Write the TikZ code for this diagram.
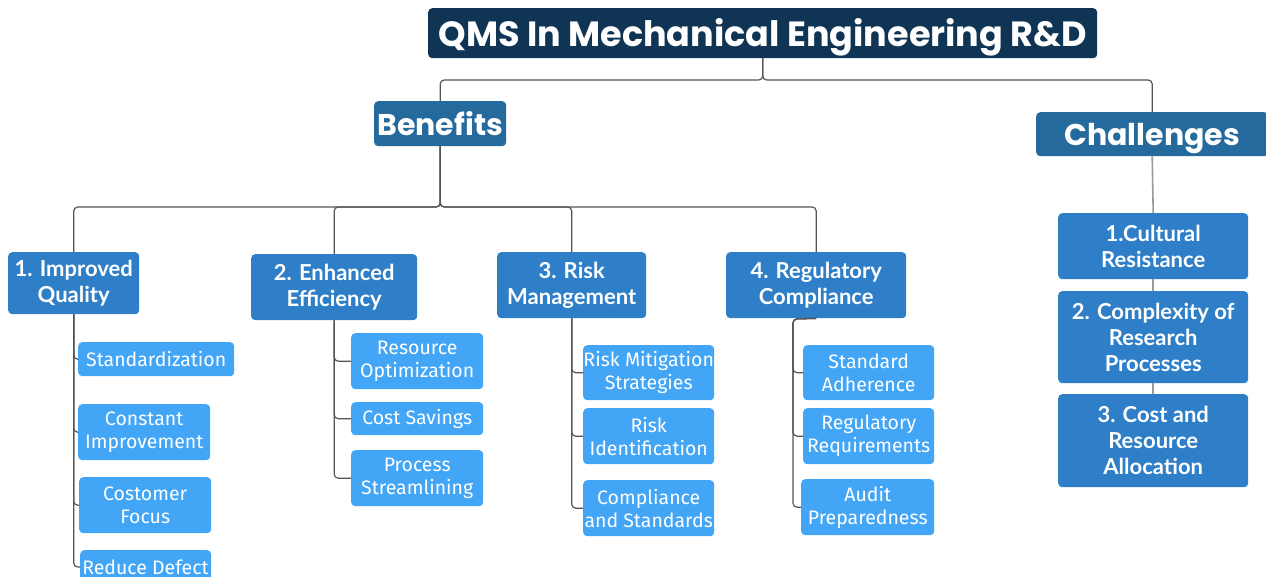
\documentclass[tikz,border=0pt]{standalone}
\usepackage{fontspec}
\setmainfont{Fira Sans}
\newfontfamily\headfont{Poppins}
\newfontfamily\catfont{Lato}

\definecolor{navy}{HTML}{0F3454}
\definecolor{headblue}{HTML}{256A9C}
\definecolor{catblue}{HTML}{2F7FC8}
\definecolor{subblue}{HTML}{42A5F6}
\definecolor{linegray}{HTML}{555555}
\definecolor{lightline}{HTML}{9A9A9A}

% text set on a baseline lying #1 below the centre of its box
\newcommand{\onbase}[2]{\raisebox{-#1}[0pt][0pt]{#2}}

\tikzset{
  box/.style={rounded corners=4pt, text=white, align=center, inner sep=0pt, anchor=north west},
  sz/.style 2 args={minimum width=#1, minimum height=#2},
  titlebox/.style={box, fill=navy, font=\headfont\bfseries\fontsize{35}{40}\selectfont},
  headbox/.style={box, fill=headblue, font=\headfont\bfseries\fontsize{30}{34}\selectfont},
  catbox/.style={box, fill=catblue, font=\catfont\bfseries\fontsize{22}{26}\selectfont},
  subbox/.style={box, fill=subblue, font=\fontsize{19.5}{23}\selectfont},
  conn/.style={draw=linegray, line width=1.2pt, rounded corners=4pt},
  lconn/.style={draw=lightline, line width=1.6pt},
}

\begin{document}
\begin{tikzpicture}[x=1pt, y=-1pt]
\useasboundingbox (0,0) rectangle (1266,577);
\clip (0,0) rectangle (1266,577);

% top level
\node[titlebox, sz={669pt}{50pt}] (title) at (428,8) {\onbase{13.5pt}{QMS In Mechanical Engineering R\&D}};
\node[headbox, sz={132pt}{45pt}] (ben) at (374,101) {\onbase{12pt}{Benefits}};
\node[headbox, sz={232pt}{44pt}] (chal) at (1036,112) {\onbase{11.5pt}{Challenges}};

% benefit categories
\node[catbox, sz={131pt}{62pt}] (q1) at (8,252) {1. Improved\\Quality};
\node[catbox, sz={166pt}{66pt}] (q2) at (251,254) {2. Enhanced\\Efficiency};
\node[catbox, sz={149pt}{66pt}] (q3) at (497,252) {3. Risk\\Management};
\node[catbox, sz={180pt}{66pt}] (q4) at (726,252) {4. Regulatory\\Compliance};

% improved quality
\node[subbox, sz={156pt}{34pt}] (s11) at (78,342) {Standardization};
\node[subbox, sz={132pt}{56pt}] (s12) at (78,404) {Constant\\Improvement};
\node[subbox, sz={132pt}{56pt}] (s13) at (79,477) {Costomer\\Focus};
\node[subbox, sz={131pt}{40pt}] (s14) at (80,550) {};
\node[font=\fontsize{19.5}{20}\selectfont, text=white, inner sep=0pt] (s14t) at (145.5,567) {Reduce Defect};

% enhanced efficiency
\node[subbox, sz={132pt}{56pt}] (s21) at (351,333) {Resource\\Optimization};
\node[subbox, sz={132pt}{33pt}] (s22) at (351,402) {Cost Savings};
\node[subbox, sz={132pt}{56pt}] (s23) at (351,450) {Process\\Streamlining};

% risk management
\node[subbox, sz={131pt}{55pt}] (s31) at (583,345) {Risk Mitigation\\Strategies};
\node[subbox, sz={131pt}{56pt}] (s32) at (583,408) {Risk\\Identification};
\node[subbox, sz={131pt}{56pt}] (s33) at (583,480) {Compliance\\and Standards};

% regulatory compliance
\node[subbox, sz={131pt}{55pt}] (s41) at (803,345) {Standard\\Adherence};
\node[subbox, sz={131pt}{56pt}] (s42) at (803,408) {Regulatory\\Requirements};
\node[subbox, sz={133pt}{56pt}] (s43) at (801,479) {Audit\\Preparedness};

% challenges
\node[catbox, sz={190pt}{66pt}] (c1) at (1058,213) {1.Cultural\\Resistance};
\node[catbox, sz={190pt}{92pt}] (c2) at (1058,291) {2. Complexity of\\Research\\Processes};
\node[catbox, sz={190pt}{93pt}] (c3) at (1058,394) {3. Cost and\\Resource\\Allocation};

% connectors: root
\coordinate (rootbar) at (0,80);
\draw[conn] (title.south) -- (title.south |- rootbar) -| (ben.north);
\draw[conn] (title.south) -- (title.south |- rootbar) -| (chal.north);

% connectors: benefits
\coordinate (benbar) at (0,207);
\foreach \c in {q1,q2,q3,q4}
  \draw[conn] (ben.south) -- (ben.south |- benbar) -| (\c.north);

% connectors: categories to items
\foreach \c in {s11,s12,s13}
  \draw[conn] (q1.south) |- (\c.west);
\draw[conn] (q1.south) |- (s14t.west -| s14.west);
\foreach \c in {s21,s22,s23}
  \draw[conn] (q2.south) |- (\c.west);
\foreach \c in {s31,s32,s33}
  \draw[conn] (q3.south) |- (\c.west);
\coordinate (t4) at (793,319);
\foreach \c in {s41,s42,s43}
  \draw[conn] (q4.south) -- (t4) |- (\c.west);

% connectors: challenges
\draw[lconn] (chal.south) -- (c1.north);
\draw[lconn] (c1.south) -- (c2.north);
\draw[lconn] (c2.south) -- (c3.north);
\end{tikzpicture}
\end{document}
